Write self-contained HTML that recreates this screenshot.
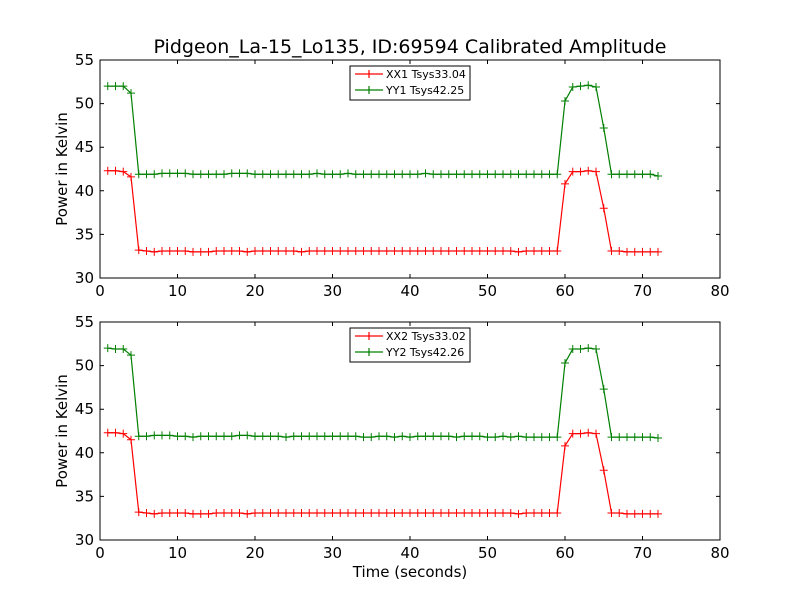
<!DOCTYPE html>
<html><head><meta charset="utf-8"><style>
body{margin:0;background:#fff;}
svg{display:block;font-family:"DejaVu Sans","Liberation Sans",sans-serif;}
</style></head><body>
<svg id="fig" width="800" height="600" xmlns="http://www.w3.org/2000/svg">
<rect width="800" height="600" fill="#fff"/>
<text x="410" y="53" font-size="19" text-anchor="middle">Pidgeon_La-15_Lo135, ID:69594 Calibrated Amplitude</text>
</svg>
<script>
const xTicks=[0,10,20,30,40,50,60,70,80];
const yTicks=[30,35,40,45,50,55];
const xx1=[42.3,42.3,42.2,41.6,33.2,33.1,33.0,33.1,33.1,33.1,33.1,33.0,33.0,33.0,33.1,33.1,33.1,33.1,33.0,33.1,33.1,33.1,33.1,33.1,33.1,33.0,33.1,33.1,33.1,33.1,33.1,33.1,33.1,33.1,33.1,33.1,33.1,33.1,33.1,33.1,33.1,33.1,33.1,33.1,33.1,33.1,33.1,33.1,33.1,33.1,33.1,33.1,33.1,33.0,33.1,33.1,33.1,33.1,33.1,40.8,42.2,42.2,42.3,42.2,38.0,33.1,33.1,33.0,33.0,33.0,33.0,33.0];
const yy1=[52.0,52.0,52.0,51.2,41.9,41.9,41.9,42.0,42.0,42.0,42.0,41.9,41.9,41.9,41.9,41.9,42.0,42.0,42.0,41.9,41.9,41.9,41.9,41.9,41.9,41.9,41.9,42.0,41.9,41.9,41.9,42.0,41.9,41.9,41.9,41.9,41.9,41.9,41.9,41.9,41.9,42.0,41.9,41.9,41.9,41.9,41.9,41.9,41.9,41.9,41.9,41.9,41.9,41.9,41.9,41.9,41.9,41.9,41.9,50.3,51.9,52.0,52.1,51.9,47.2,41.9,41.9,41.9,41.9,41.9,41.9,41.7];
const xx2=[42.3,42.3,42.2,41.5,33.2,33.1,33.0,33.1,33.1,33.1,33.1,33.0,33.0,33.0,33.1,33.1,33.1,33.1,33.0,33.1,33.1,33.1,33.1,33.1,33.1,33.1,33.1,33.1,33.1,33.1,33.1,33.1,33.1,33.1,33.1,33.1,33.1,33.1,33.1,33.1,33.1,33.1,33.1,33.1,33.1,33.1,33.1,33.1,33.1,33.1,33.1,33.1,33.1,33.0,33.1,33.1,33.1,33.1,33.1,40.8,42.2,42.2,42.3,42.2,38.0,33.1,33.1,33.0,33.0,33.0,33.0,33.0];
const yy2=[52.0,51.9,51.9,51.2,41.9,41.9,42.0,42.0,42.0,41.9,41.9,41.8,41.9,41.9,41.9,41.9,41.9,42.0,42.0,41.9,41.9,41.9,41.9,41.8,41.9,41.9,41.9,41.9,41.9,41.9,41.9,41.9,41.9,41.8,41.8,41.9,41.9,41.8,41.9,41.8,41.9,41.9,41.9,41.9,41.9,41.8,41.9,41.9,41.9,41.8,41.8,41.9,41.8,41.9,41.8,41.8,41.8,41.8,41.8,50.3,51.9,51.9,52.0,51.9,47.3,41.8,41.8,41.8,41.8,41.8,41.8,41.7];
const legend1=["XX1 Tsys33.04","YY1 Tsys42.25"];
const legend2=["XX2 Tsys33.02","YY2 Tsys42.26"];
const NS="http://www.w3.org/2000/svg";
const svg=document.getElementById('fig');
function mk(t,a,p){const e=document.createElementNS(NS,t);for(const k in a)e.setAttribute(k,a[k]);(p||svg).appendChild(e);return e;}
function panel(top,bot,sx,sy,legend,idx){
  const L=100,R=720;
  const xs=v=>L+(v-0)/(80-0)*(R-L);
  const ys=v=>bot-(v-30)/(55-30)*(bot-top);
  const g=mk('g',{});
  
  
  [[sx,'#ff0000','xx'],[sy,'#008000','yy']].forEach(([arr,c,n])=>{
    const pts=arr.map((v,i)=>xs(i+1)+','+ys(v)).join(' ');
    const pl=mk('polyline',{points:pts,fill:'none',stroke:c,'stroke-width':1.2},g);
    
    
    arr.forEach((v,i)=>{
      const m=mk('path',{d:`M${xs(i+1)-4},${ys(v)}h8M${xs(i+1)},${ys(v)-4}v8`,stroke:c,'stroke-width':1},g);
      
      
    });
  });
  const fr=mk('rect',{x:L,y:top,width:R-L,height:bot-top,fill:'none',stroke:'#000','stroke-width':1},g);
  
  
  xTicks.forEach(t=>{
    mk('path',{d:`M${xs(t)},${bot}v-4M${xs(t)},${top}v4`,stroke:'#000'},g);
    const tx=mk('text',{x:xs(t),y:bot+18,'font-size':15,'text-anchor':'middle'},g);
    tx.textContent=t;
    
    
  });
  yTicks.forEach(t=>{
    mk('path',{d:`M${L},${ys(t)}h4M${R},${ys(t)}h-4`,stroke:'#000'},g);
    const tx=mk('text',{x:L-6,y:ys(t)+5,'font-size':15,'text-anchor':'end'},g);
    tx.textContent=t;
    
    
  });
  const yl=mk('text',{x:67,y:(top+bot)/2,'font-size':15,'text-anchor':'middle',transform:`rotate(-90 67 ${(top+bot)/2})`},g);
  yl.textContent='Power in Kelvin';
  
  
  const lg=mk('g',{},g);
  
  
  mk('rect',{x:350,y:top+6,width:120,height:34,fill:'#fff',stroke:'#000'},lg);
  ['#ff0000','#008000'].forEach((c,i)=>{
    const yy=top+14+i*16;
    mk('path',{d:`M355,${yy}h28M369,${yy-4}v8`,stroke:c,'stroke-width':1.2},lg);
    const t=mk('text',{x:386,y:yy+4,'font-size':11},lg);
    t.textContent=legend[i];
    
    
  });
}
panel(60,278,xx1,yy1,legend1,1);
panel(322,540,xx2,yy2,legend2,2);
const xt=mk('text',{x:410,y:577,'font-size':15,'text-anchor':'middle'});
xt.textContent='Time (seconds)';


</script>
</body></html>
